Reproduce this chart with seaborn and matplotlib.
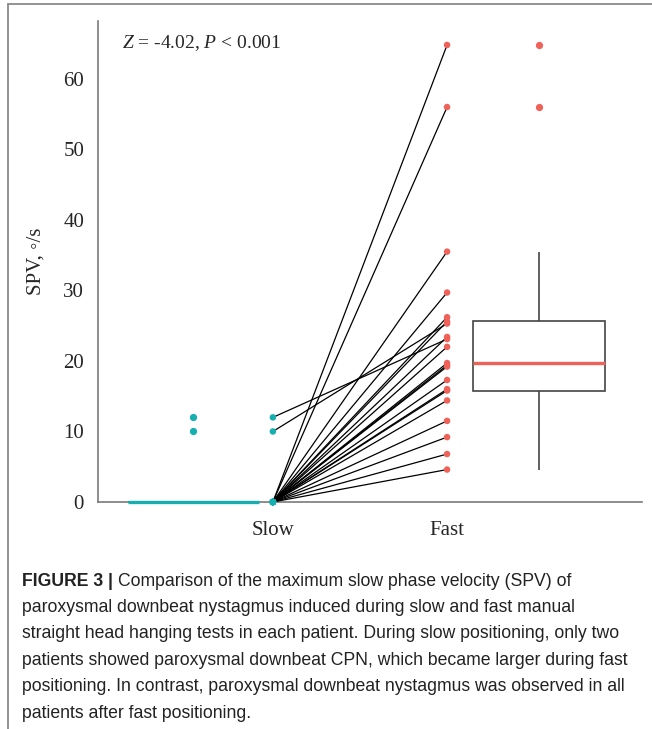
import numpy as np
import pandas as pd
import matplotlib
matplotlib.use('Agg')
import matplotlib.pyplot as plt
import seaborn as sns

# paired SPV values per patient (deg/s)
slow_spv = [0, 0, 0, 0, 0, 0, 10.0, 0, 12.0, 0, 0, 0, 0, 0, 0, 0, 0, 0, 0, 0, 0]
fast_spv = [64.8, 56.0, 35.5, 29.7, 26.2, 25.6, 25.3, 23.4, 23.1, 22.0,
            19.7, 19.4, 19.2, 17.3, 16.0, 15.8, 14.4, 11.5, 9.2, 6.8, 4.6]
groups = ['Slow', 'Fast']
stat_text = r'$Z$ = -4.02, $P$ < 0.001'
caption_lines = [
    'Comparison of the maximum slow phase velocity (SPV) of',
    'paroxysmal downbeat nystagmus induced during slow and fast manual',
    'straight head hanging tests in each patient. During slow positioning, only two',
    'patients showed paroxysmal downbeat CPN, which became larger during fast',
    'positioning. In contrast, paroxysmal downbeat nystagmus was observed in all',
    'patients after fast positioning.',
]

TEAL = '#17AEB0'
RED = '#EF6259'
GREY = '#7a7a7a'
PAIR_X = {'Slow': 0.23, 'Fast': 0.734}

sns.set_style('white')
plt.rcParams['font.family'] = ['Liberation Serif', 'DejaVu Serif']
plt.rcParams['mathtext.fontset'] = 'custom'
plt.rcParams['mathtext.rm'] = 'Liberation Serif'
plt.rcParams['mathtext.it'] = 'Liberation Serif:italic'

n = len(fast_spv)
df = pd.DataFrame({
    'patient': list(range(n)) * 2,
    'group': ['Slow'] * n + ['Fast'] * n,
    'spv': slow_spv + fast_spv,
})
df['xpos'] = df['group'].map(PAIR_X)

fig = plt.figure(figsize=(6.52, 7.29), dpi=100)
ax = fig.add_axes([98 / 652, 1 - 502 / 729, 544 / 652, 481 / 729])

# boxplots, one per group so the median/outlier colour can differ
for g, col in zip(groups, [TEAL, RED]):
    sns.boxplot(data=df[df['group'] == g], x='group', y='spv', order=groups,
                width=0.38, color='white', linecolor='#444444', linewidth=1.2,
                showcaps=False, ax=ax,
                medianprops={'color': col, 'linewidth': 2.4, 'zorder': 5},
                flierprops={'marker': 'o', 'markerfacecolor': col,
                            'markeredgecolor': col, 'markersize': 4.2})

# paired lines between slow and fast
sns.lineplot(data=df, x='xpos', y='spv', units='patient', estimator=None,
             color='black', linewidth=0.9, ax=ax, zorder=3, legend=False)
for g, col in zip(groups, [TEAL, RED]):
    sub = df[df['group'] == g]
    sns.scatterplot(data=sub, x='xpos', y='spv', color=col, s=22,
                    edgecolor='none', ax=ax, zorder=4, legend=False)

for art in ax.lines + ax.patches + ax.collections:
    art.set_clip_on(False)

ax.set_xlim(-0.276, 1.298)
ax.set_ylim(0, 68.2)
ax.set_yticks([0, 10, 20, 30, 40, 50, 60])
ax.set_xticks([PAIR_X['Slow'], PAIR_X['Fast']], groups)
ax.set_xlabel('')
ax.set_ylabel('SPV, ◦/s', fontsize=15, labelpad=13)
ax.tick_params(axis='y', length=6.5, width=1.1, color=GREY, pad=3.5, labelsize=15)
ax.tick_params(axis='x', length=0, pad=14, labelsize=15)
for s in ['top', 'right']:
    ax.spines[s].set_visible(False)
for s in ['left', 'bottom']:
    ax.spines[s].set_color(GREY)
    ax.spines[s].set_linewidth(1.2)

ax.text(-0.207, 65.0, stat_text, fontsize=14, va='center', ha='left')

# outer frame (top and left edges)
fig.add_artist(plt.Line2D([8 / 652, 8 / 652], [0, 1 - 4 / 729],
                          transform=fig.transFigure, color='#8a8a8a', lw=1.3))
fig.add_artist(plt.Line2D([8 / 652, 1], [1 - 4 / 729, 1 - 4 / 729],
                          transform=fig.transFigure, color='#8a8a8a', lw=1.3))

# caption
cap_font = ['Liberation Sans', 'DejaVu Sans']
cap_size = 12.7
y0 = 581
step = 26.4
bold = fig.text(22 / 652, 1 - y0 / 729, 'FIGURE 3 |', fontsize=cap_size,
                family=cap_font, weight='bold', va='center', color='#222222')
renderer = fig.canvas.get_renderer()
bb = bold.get_window_extent(renderer=renderer)
fig.text((bb.x1 + 5) / 652, 1 - y0 / 729, caption_lines[0], fontsize=cap_size,
         family=cap_font, va='center', color='#222222')
for i, line in enumerate(caption_lines[1:], start=1):
    fig.text(22 / 652, 1 - (y0 + i * step) / 729, line, fontsize=cap_size,
             family=cap_font, va='center', color='#222222')

fig.savefig('out.png', dpi=100)
